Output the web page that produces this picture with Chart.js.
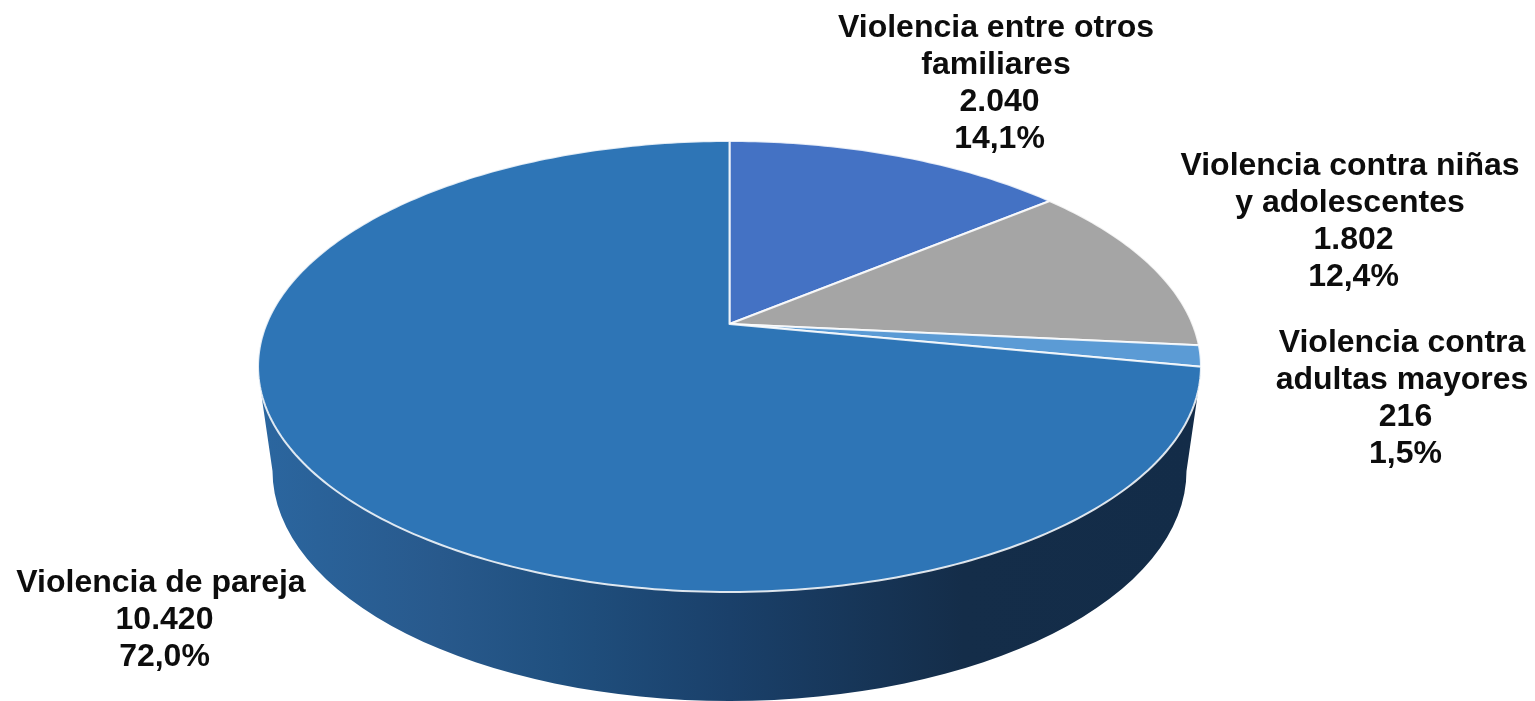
<!DOCTYPE html>
<html lang="es">
<head>
<meta charset="utf-8">
<title>Violencia</title>
<script src="https://cdn.jsdelivr.net/npm/chart.js@4"></script>
<style>
  html, body { margin: 0; padding: 0; background: #fff; overflow: hidden; }
  canvas { display: block; }
</style>
</head>
<body>
<canvas id="pie" width="1535" height="701"></canvas>
<script>
// data
const categories = [
  'Violencia entre otros familiares',
  'Violencia contra niñas y adolescentes',
  'Violencia contra adultas mayores',
  'Violencia de pareja'
];
const categoryLines = [
  ['Violencia entre otros', 'familiares'],
  ['Violencia contra niñas', 'y adolescentes'],
  ['Violencia contra', 'adultas mayores'],
  ['Violencia de pareja']
];
const values = [2040, 1802, 216, 10420];
const valueLabels = ['2.040', '1.802', '216', '10.420'];
const percentLabels = ['14,1%', '12,4%', '1,5%', '72,0%'];
const sliceColors = ['#4472c4', '#a5a5a5', '#5b9bd5', '#2e75b6'];

// perspective of the top face: a circle seen through a homography
const apex = { x: 729.5, y: 324 };
const persp = { a: 463, b: 217.5, k: 0.1885 };

// bottom rim of the wall
const rim = { x: 729.5, y: 471, rx: 457, ry: 230 };

// label centres, first line y
const labelPos = [
  { x: 996, y: 28.5 },
  { x: 1350, y: 166.5 },
  { x: 1402, y: 343.5 },
  { x: 161, y: 583.5 }
];
const lineHeight = 37;
const numberShift = 3.5; // number lines sit a bit right of the names

function project(angle) {
  const u = Math.cos(angle);
  const v = Math.sin(angle);
  const d = 1 - persp.k * v;
  return { x: apex.x + persp.a * u / d, y: apex.y + persp.b * v / d };
}

function drawWall(ctx) {
  const grad = ctx.createLinearGradient(262, 0, 1197, 0);
  grad.addColorStop(0, '#2b669f');
  grad.addColorStop(0.19, '#28598c');
  grad.addColorStop(0.32, '#20507f');
  grad.addColorStop(0.50, '#1a406a');
  grad.addColorStop(0.75, '#142d49');
  grad.addColorStop(1, '#132c48');

  ctx.beginPath();
  ctx.moveTo(258.5, 375);
  ctx.lineTo(rim.x - rim.rx, rim.y);
  ctx.ellipse(rim.x, rim.y, rim.rx, rim.ry, 0, Math.PI, 0, true);
  ctx.lineTo(1200.5, 375);
  ctx.closePath();
  ctx.fillStyle = grad;
  ctx.fill();
}

function drawSlice(ctx, arc, color) {
  const steps = Math.max(4, Math.ceil((arc.endAngle - arc.startAngle) * 60));
  ctx.beginPath();
  ctx.moveTo(apex.x, apex.y);
  for (let i = 0; i <= steps; i++) {
    const p = project(arc.startAngle + (arc.endAngle - arc.startAngle) * i / steps);
    ctx.lineTo(p.x, p.y);
  }
  ctx.closePath();
  ctx.fillStyle = color;
  ctx.fill();
  ctx.lineJoin = 'round';
  ctx.lineWidth = 2;
  ctx.strokeStyle = 'rgba(255,255,255,0.85)';
  ctx.stroke();
}

function drawLabels(ctx) {
  ctx.font = 'bold 32px "Liberation Sans", Arial, sans-serif';
  ctx.fillStyle = '#0d0d0d';
  ctx.textAlign = 'center';
  ctx.textBaseline = 'middle';
  categories.forEach((name, i) => {
    const names = categoryLines[i];
    const numbers = [valueLabels[i], percentLabels[i]];
    names.forEach((line, n) => {
      ctx.fillText(line, labelPos[i].x, labelPos[i].y + n * lineHeight);
    });
    numbers.forEach((line, n) => {
      const y = labelPos[i].y + (names.length + n) * lineHeight;
      ctx.fillText(line, labelPos[i].x + numberShift, y);
    });
  });
}

const perspectivePie = {
  id: 'perspectivePie',
  beforeDatasetsDraw(chart) {
    const ctx = chart.ctx;
    const arcs = chart.getDatasetMeta(0).data;
    ctx.save();
    drawWall(ctx);
    arcs.forEach((arc, i) => drawSlice(ctx, arc, sliceColors[i]));
    drawLabels(ctx);
    ctx.restore();
    return false; // the default flat arcs are replaced by the ones above
  }
};

new Chart(document.getElementById('pie').getContext('2d'), {
  type: 'pie',
  data: {
    labels: categories,
    datasets: [{ data: values, backgroundColor: sliceColors }]
  },
  options: {
    responsive: false,
    animation: false,
    events: [],
    plugins: {
      legend: { display: false },
      tooltip: { enabled: false }
    }
  },
  plugins: [perspectivePie]
});
</script>
</body>
</html>
